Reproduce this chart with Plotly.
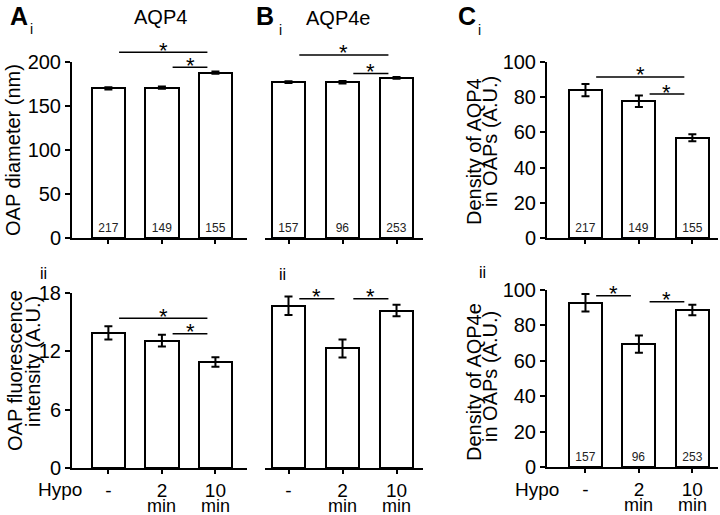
import plotly.graph_objects as go

# treatment groups (hypo-osmotic exposure)
groups = ["-", "2 min", "10 min"]
tick_text = ["-", "2", "10"]
tick_sub = ["", "min", "min"]

# A i - OAP diameter (nm), AQP4
a1_mean = [170, 171, 188]
a1_err = [1.3, 1.3, 1.3]
a1_n = [217, 149, 155]
# B i - OAP diameter (nm), AQP4e
b1_mean = [177, 177, 182]
b1_err = [1.0, 1.4, 1.0]
b1_n = [157, 96, 253]
# C i - density of AQP4 in OAPs (A.U.)
c1_mean = [84, 77.7, 57]
c1_err = [3.5, 3.2, 2.0]
c1_n = [217, 149, 155]
# A ii - OAP fluorescence intensity (A.U.), AQP4
a2_mean = [13.9, 13.1, 10.9]
a2_err = [0.68, 0.6, 0.48]
# B ii - OAP fluorescence intensity (A.U.), AQP4e
b2_mean = [16.7, 12.3, 16.2]
b2_err = [0.95, 0.93, 0.6]
# C ii - density of AQP4e in OAPs (A.U.)
c2_mean = [92.8, 69.4, 88.7]
c2_err = [5.0, 4.9, 3.0]
c2_n = [157, 96, 253]

# significance brackets: (group a, group b, height in axis units)
a1_sig = [(0, 2, 211), (1, 2, 194)]
b1_sig = [(0, 2, 208), (1, 2, 187)]
c1_sig = [(0, 2, 91.5), (1, 2, 81.8)]
a2_sig = [(0, 2, 15.4), (1, 2, 13.8)]
b2_sig = [(0, 1, 17.4), (1, 2, 17.4)]
c2_sig = [(0, 1, 96.8), (1, 2, 93.4)]

W, H = 720, 515
FONT = "Liberation Sans, Arial, sans-serif"


def px(x):
    return x / W


def py(y):
    return 1 - y / H


# panel geometry in pixels: x-axis left/right, y of zero and top of axis
panels = [
    dict(mean=a1_mean, err=a1_err, n=a1_n, sig=a1_sig, xpx=(72, 247), ypx=(238, 62),
         xr=[-0.68, 2.59], ymax=200, dtick=50, showy=True, bottom=False),
    dict(mean=b1_mean, err=b1_err, n=b1_n, sig=b1_sig, xpx=(265, 423), ypx=(238, 62),
         xr=[-0.435, 2.49], ymax=200, dtick=50, showy=False, bottom=False),
    dict(mean=c1_mean, err=c1_err, n=c1_n, sig=c1_sig, xpx=(547, 718), ypx=(238, 62),
         xr=[-0.72, 2.48], ymax=100, dtick=20, showy=True, bottom=False),
    dict(mean=a2_mean, err=a2_err, n=None, sig=a2_sig, xpx=(72, 247), ypx=(468, 293),
         xr=[-0.68, 2.59], ymax=18, dtick=6, showy=True, bottom=True),
    dict(mean=b2_mean, err=b2_err, n=None, sig=b2_sig, xpx=(265, 423), ypx=(468, 293),
         xr=[-0.435, 2.49], ymax=18, dtick=6, showy=False, bottom=True),
    dict(mean=c2_mean, err=c2_err, n=c2_n, sig=c2_sig, xpx=(547, 718), ypx=(467, 290),
         xr=[-0.72, 2.48], ymax=100, dtick=20, showy=True, bottom=True),
]

fig = go.Figure()
shapes = []
annotations = []

for k, p in enumerate(panels, start=1):
    xa = "x" if k == 1 else f"x{k}"
    ya = "y" if k == 1 else f"y{k}"
    fig.add_trace(go.Bar(
        x=list(range(len(groups))), y=p["mean"], width=0.62,
        marker=dict(color="white", line=dict(color="black", width=2)),
        error_y=dict(type="data", array=p["err"], color="black", thickness=2, width=4),
        text=[str(v) for v in p["n"]] if p["n"] else None,
        textposition="inside", insidetextanchor="start", textangle=0,
        insidetextfont=dict(size=12, color="#222", family=FONT),
        xaxis=xa, yaxis=ya, showlegend=False, hoverinfo="skip",
    ))
    xkey = "xaxis" if k == 1 else f"xaxis{k}"
    ykey = "yaxis" if k == 1 else f"yaxis{k}"
    fig.layout[xkey] = dict(
        domain=[px(p["xpx"][0]), px(p["xpx"][1])], range=p["xr"], anchor=ya,
        automargin=False,
        showline=True, linecolor="black", linewidth=2, showgrid=False, zeroline=False,
        ticks="outside", ticklen=4, tickwidth=2, tickcolor="black",
        tickvals=[0, 1, 2], ticktext=tick_text, showticklabels=p["bottom"],
        tickfont=dict(size=19, color="black", family=FONT), fixedrange=True,
    )
    yaxis = dict(
        domain=[py(p["ypx"][0]), py(p["ypx"][1])], range=[0, p["ymax"]], anchor=xa,
        automargin=False, showgrid=False, zeroline=False, fixedrange=True,
    )
    if p["showy"]:
        yaxis.update(showline=True, linecolor="black", linewidth=2, ticks="outside",
                     ticklen=5, tickwidth=2, tickcolor="black", dtick=p["dtick"],
                     tickfont=dict(size=20, color="black", family=FONT))
    else:
        yaxis.update(showline=False, showticklabels=False, ticks="")
    fig.layout[ykey] = yaxis

    # second line of the x tick labels ("min")
    if p["bottom"]:
        for i, s in enumerate(tick_sub):
            if s:
                annotations.append(dict(xref=xa, yref="paper", x=i, y=py(p["ypx"][0] + 38),
                                        text=s, showarrow=False, yanchor="middle",
                                        font=dict(size=18, color="black", family=FONT)))

    for a, b, h in p["sig"]:
        x0, x1 = a + 0.2, b - 0.15
        shapes.append(dict(type="line", xref=xa, yref=f"{ya} domain",
                           x0=x0, x1=x1, y0=h / p["ymax"], y1=h / p["ymax"],
                           line=dict(color="black", width=1.5)))
        annotations.append(dict(xref=xa, yref=f"{ya} domain", x=(x0 + x1) / 2,
                                y=h / p["ymax"], text="*", showarrow=False,
                                yanchor="middle", yshift=2,
                                font=dict(size=22, color="black", family=FONT)))


def label(text, x, y, size=20, angle=0, bold=False):
    annotations.append(dict(xref="paper", yref="paper", x=px(x), y=py(y),
                            text=f"<b>{text}</b>" if bold else text, showarrow=False,
                            textangle=angle, xanchor="center", yanchor="middle",
                            font=dict(size=size, color="black", family=FONT)))


# panel letters and titles
label("A", 19, 16, size=25, bold=True)
label("i", 31, 29, size=14)
label("B", 265, 16, size=25, bold=True)
label("i", 280, 30, size=14)
label("C", 467, 16, size=25, bold=True)
label("i", 479, 30, size=14)
label("AQP4", 160, 17)
label("AQP4e", 338, 18)
label("ii", 43, 273, size=16)
label("ii", 282, 274, size=16)
label("ii", 483, 272, size=16)

# y-axis titles
label("OAP diameter (nm)", 13, 150, angle=-90)
label("OAP fluorescence", 15, 371, angle=-90)
label("intensity (A.U.)", 33, 362, angle=-90)
label("Density of AQP4", 474, 152, angle=-90)
label("in OAPs (A.U.)", 490, 142, angle=-90)
label("Density of AQP4e", 474, 382, angle=-90)
label("in OAPs (A.U.)", 490, 377, angle=-90)

# x-axis row label
label("Hypo", 60, 489, size=19)
label("Hypo", 537, 489, size=19)

fig.update_layout(
    width=W, height=H, margin=dict(l=0, r=0, t=0, b=0, autoexpand=False),
    paper_bgcolor="white", plot_bgcolor="white",
    font=dict(family=FONT, color="black"),
    shapes=shapes, annotations=annotations, bargap=0,
)

# the page's default body margin would push the figure 8px off its corner
fig.write_html("out.html", config={"displayModeBar": False},
               post_script="document.body.style.margin='0';")
